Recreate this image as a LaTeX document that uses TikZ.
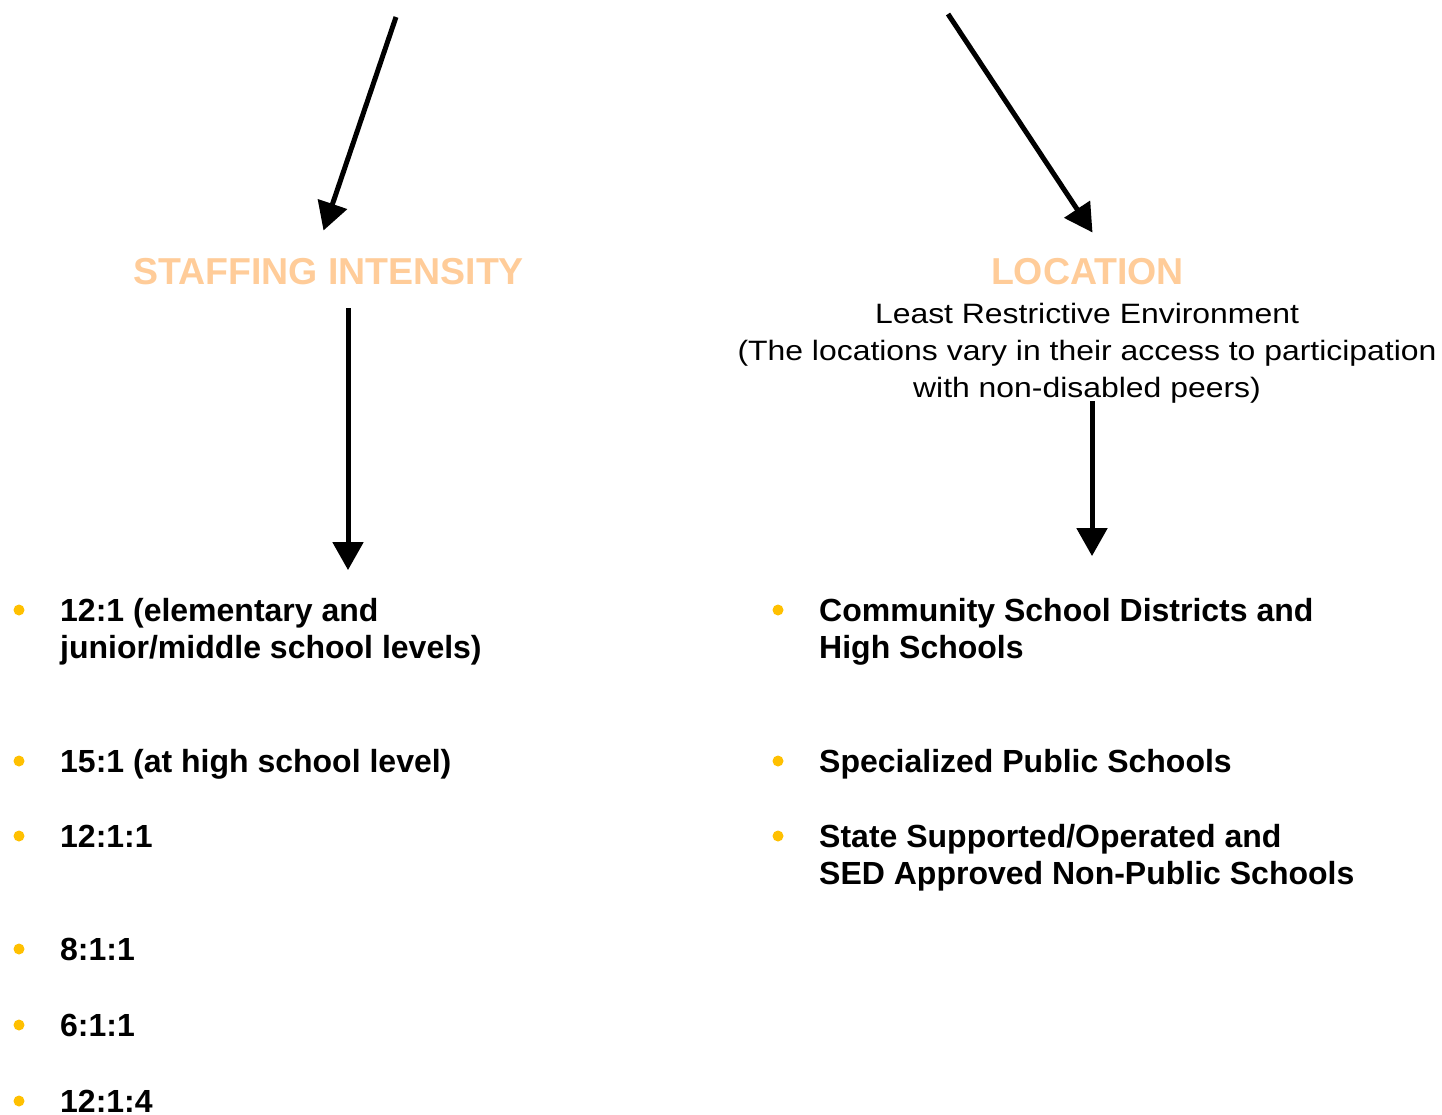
\documentclass[tikz,border=0pt]{standalone}
\usepackage{fontspec}
\setmainfont{Liberation Sans}
\newfontfamily\widefont[FakeStretch=1.14]{Liberation Sans}
\usetikzlibrary{arrows.meta,calc}

\definecolor{peach}{HTML}{FFCC99}
\definecolor{gold}{HTML}{FFC000}

\tikzset{
  head/.style={font=\fontsize{37.5}{44}\selectfont\bfseries, text=peach, inner sep=0pt},
  item/.style={font=\fontsize{32}{36.5}\selectfont\bfseries, align=left, anchor=base west, inner sep=0pt},
  arr/.style={line width=5pt, -{Triangle[length=28pt,width=30pt]}},
  dot/.style={fill=gold}
}

\begin{document}
\begin{tikzpicture}[x=1pt,y=-1pt]
  \useasboundingbox (0,0) rectangle (1442,1114);

  % headings
  \node[head] (staff) at (328.5,272) {STAFFING INTENSITY};
  \node[head] (loc) at (1087.5,272) {LOCATION};
  \node[font=\fontsize{28}{37}\selectfont\widefont, align=center, anchor=base, inner sep=0pt]
    (lre) at (1087,397) {Least Restrictive Environment\\
      (The locations vary in their access to participation\\
      with non-disabled peers)};

  % arrows from above
  \coordinate (stafftop) at (396,17);
  \coordinate (loctop) at (948,14);
  \draw[arr] (stafftop) -- ($(staff.north)+(-5,-28)$);
  \draw[arr] (loctop) -- ($(loc.north)+(5,-26)$);

  % staffing ratios (base = last line)
  \node[item] (s1) at (60,658) {12:1 (elementary and\\junior/middle school levels)};
  \node[item] (s2) at (60,772) {15:1 (at high school level)};
  \node[item] (s3) at (60,847) {12:1:1};
  \node[item] (s4) at (60,960) {8:1:1};
  \node[item] (s5) at (60,1036) {6:1:1};
  \node[item] (s6) at (60,1112) {12:1:4};

  % locations
  \node[item] (l1) at (819,658) {Community School Districts and\\High Schools};
  \node[item] (l2) at (819,772) {Specialized Public Schools};
  \node[item] (l3) at (819,884) {State Supported/Operated and\\SED Approved Non-Public Schools};

  \draw[arr] ($(staff.south)+(19.5,23)$) -- ($(s1.north west)+(288,-28)$);
  \draw[arr] ($(lre.south)+(5,-2)$) -- ($(l1.north west)+(273,-42)$);

  % bullets
  \foreach \y in {610,761,836,949,1025,1101}
    \fill[dot] (19,\y) circle (5.5);
  \foreach \y in {610,761,836}
    \fill[dot] (778,\y) circle (5.5);
\end{tikzpicture}
\end{document}
